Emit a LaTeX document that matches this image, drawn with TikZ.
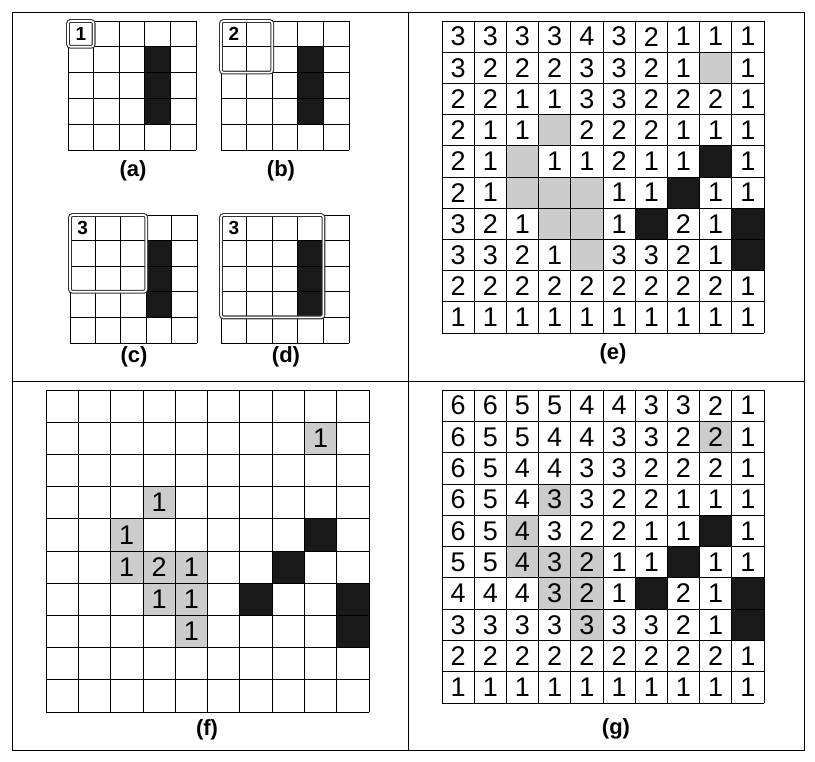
\documentclass[tikz,border=0pt]{standalone}
\usepackage{fontspec}
\setmainfont{Liberation Sans}
\newcommand{\graycells}{9/2,4/4,3/5,3/6,4/6,5/6,4/7,5/7,5/8}
\newcommand{\blackcells}{9/5,8/6,7/7,10/7,10/8}
\newcommand{\cellgrid}[1]{%
  \foreach \i in {0,...,#1} {
    \draw[gridline] (\i,0) -- (\i,#1);
    \draw[gridline] (0,\i) -- (#1,\i);
  }}
\begin{document}
\begin{tikzpicture}[x=1pt,y=-1pt,
  gridline/.style={line width=0.8pt,line cap=rect},
  blackcell/.style={fill=black!90},
  graycell/.style={fill=black!20},
  winbox/.style={draw=black!80,double=white,double distance=1.6pt,line width=1.1pt,rounded corners=2.5pt},
  panellabel/.style={font=\bfseries\fontsize{22}{22}\selectfont},
  num/.style={font=\fontsize{27}{27}\selectfont},
  winnum/.style={font=\bfseries\fontsize{19}{19}\selectfont}]
\useasboundingbox (0,0) rectangle (815,762);

% frame
\draw (12,12) rectangle (804,750);
\draw (408,12) -- (408,750);
\draw (12,381) -- (804,381);

% (a)
\begin{scope}[xshift=68pt,yshift=-21pt,x=25.6pt,y=-25.8pt]
\fill[blackcell] (3,1) rectangle (4,4);
\cellgrid{5}
\draw[winbox] (0,0) rectangle (1,1);
\node[winnum] (wa) at (0.5,0.5) {1};
\end{scope}
\node[panellabel] (la) at (133,171) {(a)};

% (b)
\begin{scope}[xshift=221pt,yshift=-21pt,x=25.6pt,y=-25.8pt]
\fill[blackcell] (3,1) rectangle (4,4);
\cellgrid{5}
\draw[winbox] (0,0) rectangle (2,2);
\node[winnum] (wb) at (0.5,0.5) {2};
\end{scope}
\node[panellabel] (lb) at (281,171) {(b)};

% (c)
\begin{scope}[xshift=70pt,yshift=-215pt,x=25.4pt,y=-25.6pt]
\fill[blackcell] (3,1) rectangle (4,4);
\cellgrid{5}
\draw[winbox] (0,0) rectangle (3,3);
\node[winnum] (wc) at (0.5,0.5) {3};
\end{scope}
\node[panellabel] (lc) at (134,357) {(c)};

% (d)
\begin{scope}[xshift=221pt,yshift=-215pt,x=25.6pt,y=-25.6pt]
\fill[blackcell] (3,1) rectangle (4,4);
\cellgrid{5}
\draw[winbox] (0,0) rectangle (4,4);
\node[winnum] (wd) at (0.5,0.5) {3};
\end{scope}
\node[panellabel] (ld) at (286,357) {(d)};

% (e)
\begin{scope}[xshift=442pt,yshift=-21pt,x=32.2pt,y=-31.2pt]
\foreach \c/\r in \graycells
  \fill[graycell] (\c-1,\r-1) rectangle (\c,\r);
\foreach \c/\r in \blackcells
  \fill[blackcell] (\c-1,\r-1) rectangle (\c,\r);
\cellgrid{10}
\foreach \row [count=\r from 0] in {
  {3,3,3,3,4,3,2,1,1,1},
  {3,2,2,2,3,3,2,1,x,1},
  {2,2,1,1,3,3,2,2,2,1},
  {2,1,1,x,2,2,2,1,1,1},
  {2,1,x,1,1,2,1,1,x,1},
  {2,1,x,x,x,1,1,x,1,1},
  {3,2,1,x,x,1,x,2,1,x},
  {3,3,2,1,x,3,3,2,1,x},
  {2,2,2,2,2,2,2,2,2,1},
  {1,1,1,1,1,1,1,1,1,1}}
  \foreach \v [count=\c from 0] in \row {
    \if\v x\else
      \node[num] (e-\r-\c) at (\c+0.5,\r+0.5) {\v};
    \fi
  };
\end{scope}
\node[panellabel] (le) at (613,354) {(e)};

% (f)
\begin{scope}[xshift=46pt,yshift=-390pt,x=32.3pt,y=-32.2pt]
\foreach \c/\r in \graycells
  \fill[graycell] (\c-1,\r-1) rectangle (\c,\r);
\foreach \c/\r in \blackcells
  \fill[blackcell] (\c-1,\r-1) rectangle (\c,\r);
\cellgrid{10}
\foreach \c/\r/\v in {9/2/1,4/4/1,3/5/1,3/6/1,4/6/2,5/6/1,4/7/1,5/7/1,5/8/1}
  \node[num] (f-\r-\c) at (\c-0.5,\r-0.5) {\v};
\end{scope}
\node[panellabel] (lf) at (207,730) {(f)};

% (g)
\begin{scope}[xshift=442pt,yshift=-390pt,x=32.2pt,y=-31.3pt]
\foreach \c/\r in \graycells
  \fill[graycell] (\c-1,\r-1) rectangle (\c,\r);
\foreach \c/\r in \blackcells
  \fill[blackcell] (\c-1,\r-1) rectangle (\c,\r);
\cellgrid{10}
\foreach \row [count=\r from 0] in {
  {6,6,5,5,4,4,3,3,2,1},
  {6,5,5,4,4,3,3,2,2,1},
  {6,5,4,4,3,3,2,2,2,1},
  {6,5,4,3,3,2,2,1,1,1},
  {6,5,4,3,2,2,1,1,x,1},
  {5,5,4,3,2,1,1,x,1,1},
  {4,4,4,3,2,1,x,2,1,x},
  {3,3,3,3,3,3,3,2,1,x},
  {2,2,2,2,2,2,2,2,2,1},
  {1,1,1,1,1,1,1,1,1,1}}
  \foreach \v [count=\c from 0] in \row {
    \if\v x\else
      \node[num] (g-\r-\c) at (\c+0.5,\r+0.5) {\v};
    \fi
  };
\end{scope}
\node[panellabel] (lg) at (616,729) {(g)};
\end{tikzpicture}
\end{document}
